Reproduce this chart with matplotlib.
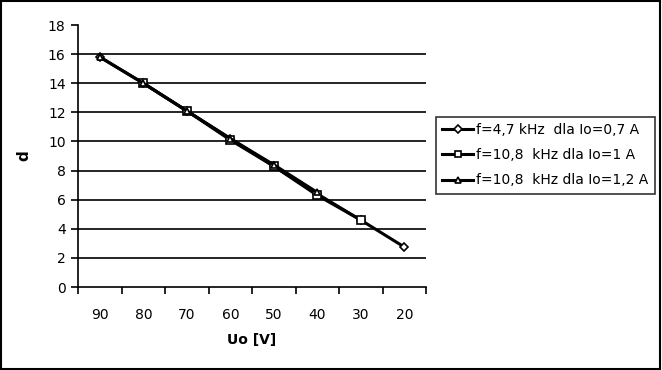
import numpy as np
import matplotlib.pyplot as plt
from matplotlib.patches import Rectangle

plt.rcParams['font.family'] = ['DejaVu Sans']

Uo = ['90', '80', '70', '60', '50', '40', '30', '20']

d_47 = np.array([15.8, 14.0, 12.1, 10.2, 8.3, 6.4, 4.6, 2.75])
d_108_1 = np.array([np.nan, 14.0, 12.1, 10.1, 8.3, 6.3, 4.6, np.nan])
d_108_12 = np.array([15.8, 14.0, 12.1, 10.2, 8.4, 6.5, np.nan, np.nan])

labels = ['f=4,7 kHz  dla Io=0,7 A',
          'f=10,8  kHz dla Io=1 A',
          'f=10,8  kHz dla Io=1,2 A']

fig = plt.figure(figsize=(6.62, 3.70), dpi=100)
ax = fig.add_axes([0.118, 0.2243, 0.5255, 0.7081])

x = np.arange(len(Uo))
ax.plot(x, d_47, '-D', color='black', lw=2.2, ms=4, mfc='white', mec='black', mew=1.2, label=labels[0])
ax.plot(x, d_108_1, '-s', color='black', lw=2.2, ms=6, mfc='white', mec='black', mew=1.2, label=labels[1])
ax.plot(x, d_108_12, '-^', color='black', lw=2.2, ms=5, mfc='white', mec='black', mew=1.2, label=labels[2])

ax.set_xlim(-0.5, 7.5)
ax.set_ylim(0, 18)
ax.set_yticks(np.arange(0, 19, 2))
for yv in range(2, 17, 2):
    ax.axhline(yv, color='black', lw=1.2, zorder=0)

ax.set_xticks(x)
ax.set_xticklabels(Uo)
ax.set_xticks(np.arange(-0.5, 8, 1), minor=True)
ax.tick_params(axis='x', which='major', length=0, pad=15, labelsize=10)
ax.tick_params(axis='x', which='minor', length=5, width=1.2, direction='out')
ax.tick_params(axis='y', length=5, width=1.2, direction='out', labelsize=10, pad=4)

for s in ['top', 'right']:
    ax.spines[s].set_visible(False)
for s in ['left', 'bottom']:
    ax.spines[s].set_linewidth(1.2)

ax.set_xlabel('Uo [V]', fontweight='bold', fontsize=10, labelpad=8)
ax.set_ylabel('d', fontweight='bold', fontsize=11, labelpad=12)

leg = ax.legend(loc='upper left', bbox_to_anchor=(0.6586, 0.6838), bbox_transform=fig.transFigure,
                borderaxespad=0, fontsize=10, frameon=True, fancybox=False, shadow=False,
                handlelength=2.2, handletextpad=0.25, labelspacing=0.8, borderpad=0.45)
leg.get_frame().set_edgecolor('black')
leg.get_frame().set_linewidth(1.2)
for h in leg.legend_handles:
    h.set_markersize(4)

fig.patches.append(Rectangle((0.001, 0.002), 0.996, 0.995, transform=fig.transFigure,
                             fill=False, edgecolor='black', lw=1.5))

fig.savefig('out.png', dpi=100)
